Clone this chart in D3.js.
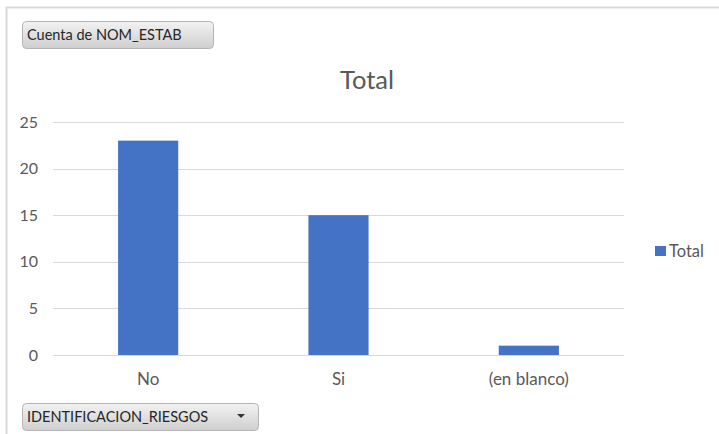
<!DOCTYPE html>
<html>
<head>
<meta charset="utf-8">
<script src="https://cdn.jsdelivr.net/npm/d3@7"></script>
<style>
  body { margin: 0; background: #fff; }
  svg { display: block; font-family: Lato, "Open Sans", sans-serif; }
</style>
</head>
<body>
<div id="chart"></div>
<script>
'use strict';

// data
const categories = ['No', 'Si', '(en blanco)'];
const totals = [23, 15, 1];
const yTicks = [0, 5, 10, 15, 20, 25];
const seriesName = 'Total';

const width = 719, height = 434;
const plot = { left: 53, right: 624, top: 122, bottom: 355 };

const svg = d3.select('#chart').append('svg')
    .attr('width', width)
    .attr('height', height);

// outer frame
svg.append('path')
    .attr('d', 'M6.5,' + height + ' V7.5 H' + width)
    .attr('fill', 'none')
    .attr('stroke', '#d9d9d9')
    .attr('stroke-width', 2);

const xScale = d3.scaleBand()
    .domain(categories)
    .range([plot.left, plot.right])
    .paddingInner(0.684)
    .paddingOuter(0.342);

const yScale = d3.scaleLinear()
    .domain([0, 25])
    .range([plot.bottom, plot.top]);

// gridlines
svg.append('g').selectAll('line')
    .data(yTicks)
    .enter().append('line')
    .attr('x1', plot.left)
    .attr('x2', plot.right)
    .attr('y1', d => Math.round(yScale(d)) + 0.5)
    .attr('y2', d => Math.round(yScale(d)) + 0.5)
    .attr('stroke', '#d9d9d9')
    .attr('stroke-width', 1);

// y axis labels
const yAxis = d3.axisLeft(yScale).tickValues(yTicks).tickSize(0).tickPadding(0);
const yg = svg.append('g')
    .attr('transform', 'translate(38,0)')
    .call(yAxis);
yg.select('.domain').remove();
yg.selectAll('text')
    .attr('font-size', 16)
    .attr('font-family', 'Lato, "Open Sans", sans-serif')
    .attr('fill', '#595959');

// x axis labels
const xAxis = d3.axisBottom(xScale).tickSize(0).tickPadding(0);
const xg = svg.append('g')
    .attr('transform', 'translate(0,' + (plot.bottom + 18) + ')')
    .call(xAxis);
xg.select('.domain').remove();
xg.selectAll('text')
    .attr('font-size', 17)
    .attr('font-family', 'Lato, "Open Sans", sans-serif')
    .attr('fill', '#595959');

// bars
svg.append('g').selectAll('rect')
    .data(categories)
    .enter().append('rect')
    .attr('x', d => xScale(d))
    .attr('width', xScale.bandwidth())
    .attr('y', (d, i) => yScale(totals[i]))
    .attr('height', (d, i) => yScale(0) - yScale(totals[i]))
    .attr('fill', '#4472c4');

// title
svg.append('text')
    .attr('x', 367)
    .attr('y', 89)
    .attr('text-anchor', 'middle')
    .attr('font-size', 25.5)
    .attr('fill', '#595959')
    .text(seriesName);

// legend
svg.append('rect')
    .attr('x', 655).attr('y', 246)
    .attr('width', 11).attr('height', 10)
    .attr('fill', '#4472c4');
svg.append('text')
    .attr('x', 669).attr('y', 257)
    .attr('font-size', 16.5)
    .attr('fill', '#595959')
    .text(seriesName);

// pivot field buttons
const defs = svg.append('defs');
const grad = defs.append('linearGradient')
    .attr('id', 'btn')
    .attr('x1', 0).attr('y1', 0).attr('x2', 0).attr('y2', 1);
grad.append('stop').attr('offset', '0%').attr('stop-color', '#f2f2f2');
grad.append('stop').attr('offset', '100%').attr('stop-color', '#cfcfcf');

let drawButton = function drawButton(x, y, w, label, dropdown) {
    const g = svg.append('g').attr('transform', 'translate(' + x + ',' + y + ')');
    g.append('rect')
        .attr('x', 0.5).attr('y', 0.5)
        .attr('width', w).attr('height', 27)
        .attr('rx', 4)
        .attr('fill', 'url(#btn)')
        .attr('stroke', '#b5b5b5');
    g.append('text')
        .attr('x', 5).attr('y', 19)
        .attr('font-size', 14.5)
        .attr('fill', '#262626')
        .text(label);
    if (dropdown) {
        g.append('path')
            .attr('d', 'M' + (w - 21) + ',11 h8 l-4,4 z')
            .attr('fill', '#333');
    }
};

drawButton(22, 21, 191, 'Cuenta de NOM_ESTAB', false);
drawButton(22, 403, 236, 'IDENTIFICACION_RIESGOS', true);
</script>
</body>
</html>
